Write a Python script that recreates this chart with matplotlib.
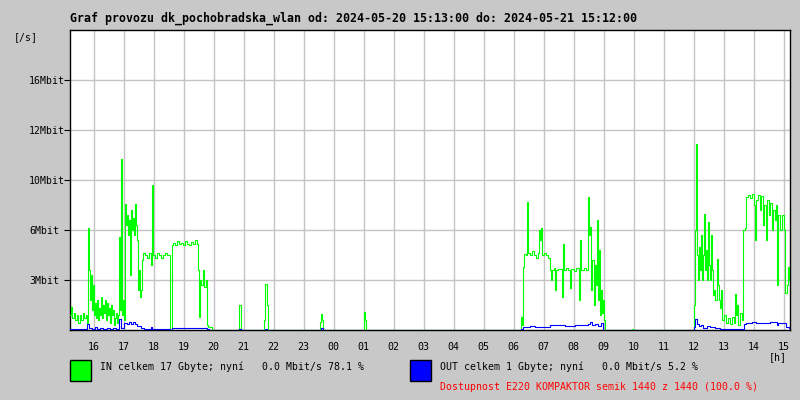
import matplotlib
matplotlib.use("Agg")
import matplotlib.pyplot as plt
from matplotlib.patches import Rectangle

# ----- data (minutes since 2024-05-20 15:13, value in chart scale units) ---
in_min = [0, 2, 4, 8, 10, 14, 16, 20, 22, 26, 28, 32, 34, 36, 38, 40, 42, 44, 46, 48,
          50, 52, 54, 56, 58, 60, 62, 64, 66, 68, 70, 72, 74, 76, 78, 80, 82, 84, 86, 88,
          90, 92, 94, 96, 98, 100, 102, 104, 106, 108, 110, 112, 114, 116, 118, 120, 122,
          124, 126, 128, 130, 132, 134, 136, 138, 140, 142, 144, 146, 150, 154, 158, 162,
          164, 166, 170, 174, 178, 182, 186, 190, 194, 200, 204, 206, 210, 214, 218, 222,
          226, 230, 234, 238, 242, 246, 250, 254, 256, 258, 260, 262, 266, 268, 272, 274,
          276, 284, 338, 342, 388, 390, 394, 396, 500, 502, 504, 506, 588, 590, 592,
          902, 904, 906, 908, 912, 914, 916, 920, 924, 928, 932, 936, 938, 940, 942, 944,
          948, 952, 956, 960, 962, 964, 968, 970, 972, 976, 984, 986, 988, 992, 996, 1000,
          1002, 1008, 1012, 1018, 1020, 1022, 1028, 1032, 1036, 1038, 1040, 1042, 1044,
          1048, 1050, 1052, 1054, 1056, 1058, 1060, 1062, 1064, 1066, 1068, 1070, 1124,
          1126,
          1248, 1250, 1252, 1254, 1256, 1258, 1260, 1262, 1264, 1266, 1268, 1270,
          1272, 1274, 1276, 1278, 1280, 1282, 1284, 1286, 1288, 1290, 1294, 1296,
          1298, 1300, 1302, 1304, 1308, 1312, 1316, 1320, 1324, 1328, 1330, 1332,
          1334, 1336, 1340, 1344, 1346, 1350, 1352, 1356, 1360, 1364, 1368, 1370,
          1372, 1376, 1380, 1382, 1386, 1388, 1392, 1394, 1398, 1400, 1404, 1406,
          1410, 1412, 1414, 1416, 1420, 1424, 1428, 1430, 1434, 1436, 1438, 1440]
in_val = [0.3, 0.46, 0.25, 0.35, 0.2, 0.3, 0.15, 0.3, 0.2, 0.35, 0.25, 0.3, 0.15, 2.04, 1.2,
          0.6, 1.1, 0.4, 0.9, 0.3, 0.55, 0.25, 0.6, 0.2, 0.45, 0.3, 0.66, 0.25, 0.5, 0.35,
          0.6, 0.2, 0.55, 0.3, 0.45, 0.15, 0.5, 0.3, 0.4, 0.1, 0.25, 0.35, 0.15, 0.3, 1.87,
          0.4, 3.42, 0.3, 0.6, 0.2, 2.53, 2.1, 2.3, 1.9, 2.2, 1.1, 2.4, 2.0, 2.25, 1.9, 2.53,
          2.1, 1.8, 0.8, 1.2, 0.67, 0.8, 1.4, 1.55, 1.5, 1.45, 1.55, 1.3, 2.9, 1.5, 1.45,
          1.55, 1.5, 1.45, 1.5, 1.55, 1.5, 0.0, 1.7, 1.75, 1.7, 1.78, 1.72, 1.75, 1.7, 1.78,
          1.73, 1.7, 1.76, 1.72, 1.8, 1.73, 1.2, 0.27, 1.0, 0.9, 1.2, 0.87, 1.0, 0.1, 0.07,
          0.0, 0.5, 0.0, 0.2, 0.93, 0.5, 0.0, 0.17, 0.33, 0.2, 0.0, 0.37, 0.2, 0.0,
          0.27, 0.1, 1.27, 1.53, 1.5, 2.57, 1.55, 1.5, 1.58, 1.5, 1.45, 1.55, 2.0, 1.8, 2.05,
          1.5, 1.55, 1.5, 1.45, 1.2, 1.0, 1.2, 1.25, 0.8, 1.2, 1.22, 0.67, 1.73, 1.2, 1.25,
          1.2, 0.85, 1.22, 1.18, 1.25, 0.6, 1.8, 1.2, 1.25, 1.2, 2.67, 1.9, 2.07, 0.8, 1.4,
          0.5, 1.3, 0.9, 2.2, 0.6, 1.6, 0.3, 0.8, 0.35, 0.6, 0.2, 0.0, 0.02,
          0.0,
          0.5, 2.0, 3.72, 1.5, 1.0, 1.67, 1.2, 1.9, 1.0, 1.5, 2.33, 1.2,
          1.6, 1.0, 2.17, 1.3, 1.0, 1.9, 1.2, 0.7, 0.8, 0.6, 1.43, 0.9,
          0.6, 0.45, 0.8, 0.2, 0.3, 0.15, 0.25, 0.13, 0.27, 0.15, 0.73, 0.3,
          0.5, 0.1, 0.35, 0.2, 2.0, 2.05, 2.67, 2.7, 2.65, 2.72, 2.5, 1.8,
          2.6, 2.7, 2.4, 2.68, 2.1, 2.5, 1.8, 2.6, 2.3, 2.55, 2.0, 2.4,
          2.2, 2.5, 0.9, 2.3, 2.0, 2.3, 2.0, 0.75, 0.9, 1.27, 1.0, 1.0]

out_min = [0, 34, 38, 44, 50, 54, 60, 66, 74, 80, 86, 92, 98, 102, 108, 114, 118, 122, 126,
           130, 134, 142, 148, 162, 164, 200, 204, 274, 278, 338, 342, 390, 394, 502, 506,
           902, 906, 920, 930, 940, 960, 980, 990, 1010, 1036, 1040, 1044, 1050, 1056,
           1062, 1066, 1248, 1250, 1254, 1258, 1262, 1266, 1274, 1280, 1290, 1300, 1344,
           1348, 1352, 1364, 1372, 1390, 1400, 1414, 1416, 1432, 1438, 1440]
out_val = [0.02, 0.13, 0.04, 0.02, 0.06, 0.03, 0.05, 0.02, 0.04, 0.02, 0.05, 0.03, 0.23,
           0.04, 0.15, 0.13, 0.17, 0.12, 0.16, 0.13, 0.08, 0.05, 0.03, 0.06, 0.03, 0.0,
           0.05, 0.02, 0.0, 0.03, 0.0, 0.03, 0.0, 0.05, 0.0,
           0.02, 0.07, 0.08, 0.06, 0.07, 0.1, 0.11, 0.09, 0.11, 0.12, 0.17, 0.1, 0.13,
           0.08, 0.15, 0.0, 0.07, 0.23, 0.12, 0.08, 0.1, 0.05, 0.08, 0.06, 0.04, 0.02,
           0.03, 0.12, 0.15, 0.17, 0.15, 0.14, 0.16, 0.11, 0.15, 0.07, 0.04, 0.04]

hour_labels = ["16", "17", "18", "19", "20", "21", "22", "23", "00", "01", "02", "03",
               "04", "05", "06", "07", "08", "09", "10", "11", "12", "13", "14", "15"]
first_hour_min = 47
y_tick_labels = ["3Mbit", "6Mbit", "10Mbit", "12Mbit", "16Mbit"]

title = "Graf provozu dk_pochobradska_wlan od: 2024-05-20 15:13:00 do: 2024-05-21 15:12:00"
in_text = "IN celkem 17 Gbyte; nyní   0.0 Mbit/s 78.1 %"
out_text = "OUT celkem 1 Gbyte; nyní   0.0 Mbit/s 5.2 %"
avail_text = "Dostupnost E220 KOMPAKTOR semik 1440 z 1440 (100.0 %)"

# ----- figure ------------------------------------------------------------
W, H = 800, 400
bg = "#c8c8c8"
mono = "DejaVu Sans Mono"

fig = plt.figure(figsize=(8, 4), dpi=100, facecolor=bg)
ax = fig.add_axes([70 / W, 1 - 330 / H, 720 / W, 300 / H])
ax.set_facecolor("white")

ax.step(in_min, in_val, where="post", color="#00ff00", lw=0.8, zorder=3)
ax.step(out_min, out_val, where="post", color="#0000ff", lw=0.8, zorder=4)

ax.set_xlim(0, 1440)
ax.set_ylim(0, 6)

xt = [first_hour_min + 60 * i for i in range(len(hour_labels))]
ax.set_xticks(xt, hour_labels, fontsize=7.2, family=mono)
ax.set_yticks([1, 2, 3, 4, 5], y_tick_labels, fontsize=7.1, family=mono)
for lab in ax.get_yticklabels():
    lab.set_horizontalalignment("left")
ax.tick_params(axis="x", length=0, pad=9)
ax.tick_params(axis="y", length=4.3, width=0.8, pad=25.2, color="black")

ax.grid(True, color="#c4c4c4", lw=1.0)
ax.set_axisbelow(True)
for s in ax.spines.values():
    s.set_color("black")
    s.set_linewidth(1.0)

# ----- texts ---------------------------------------------------------------
fig.text(70 / W, 1 - 18 / H, title, fontsize=8.35, family=mono, fontweight="bold",
         va="center", ha="left")
fig.text(26 / W, 1 - 37 / H, "[/s]", fontsize=7.1, family=mono, va="center", ha="center")
fig.text(778 / W, 1 - 357 / H, "[h]", fontsize=7.1, family=mono, va="center", ha="center")

fig.add_artist(Rectangle((70 / W, 1 - 381 / H), 21 / W, 21 / H, transform=fig.transFigure,
                         facecolor="#00ff00", edgecolor="black", lw=1.0))
fig.add_artist(Rectangle((410 / W, 1 - 381 / H), 21 / W, 21 / H, transform=fig.transFigure,
                         facecolor="#0000ff", edgecolor="black", lw=1.0))
fig.text(100 / W, 1 - 367 / H, in_text, fontsize=7.1, family=mono, va="center", ha="left")
fig.text(440 / W, 1 - 367 / H, out_text, fontsize=7.1, family=mono, va="center", ha="left")
fig.text(440 / W, 1 - 387 / H, avail_text, fontsize=7.1, family=mono, va="center",
         ha="left", color="#ff0000")

fig.savefig("out.png", dpi=100, facecolor=bg)
